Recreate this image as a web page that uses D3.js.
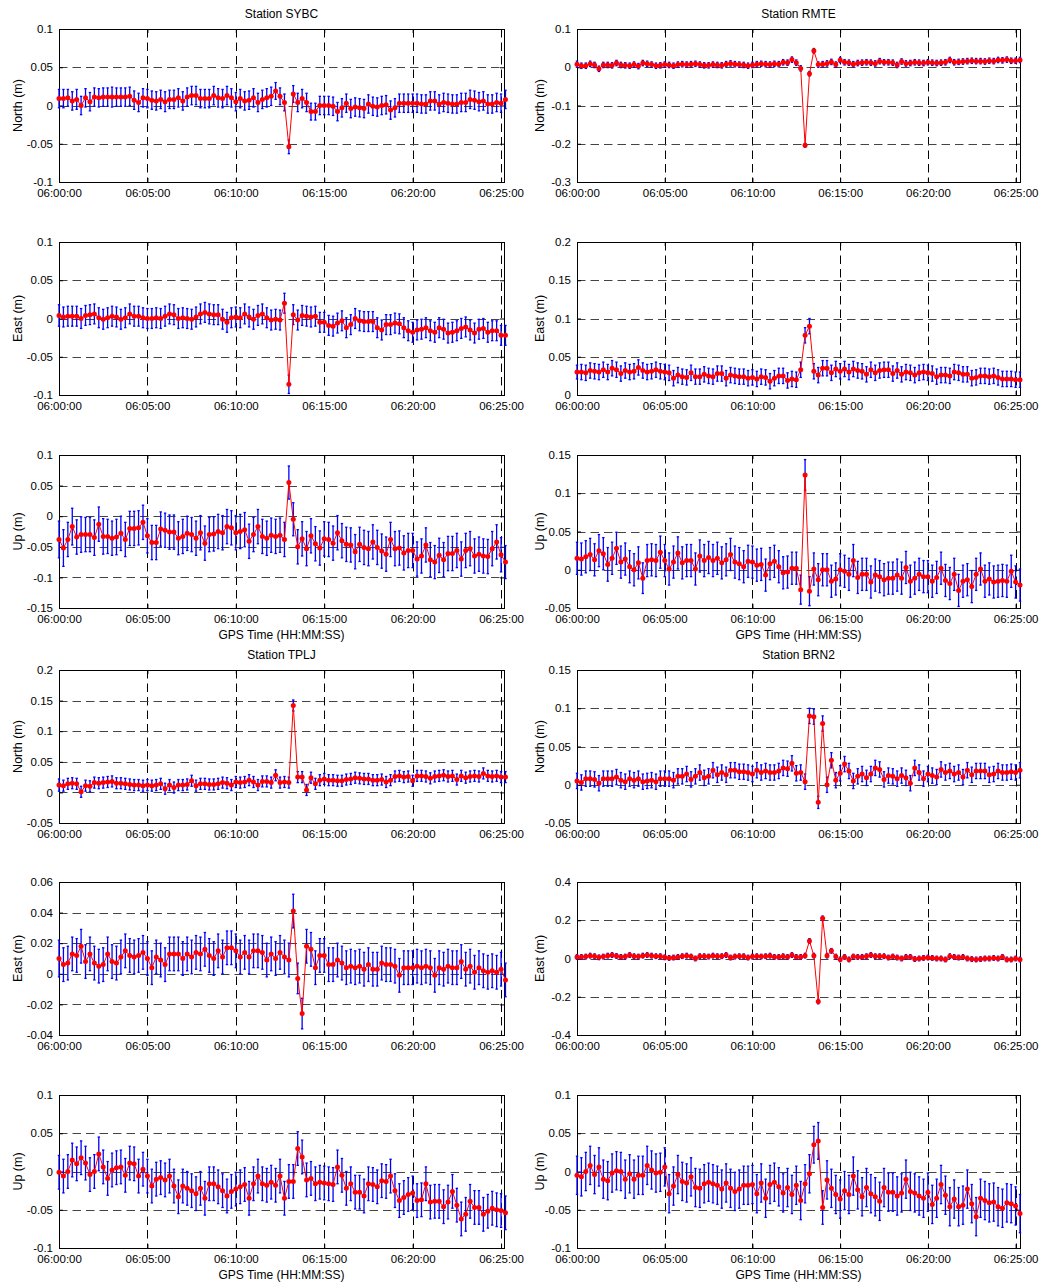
<!DOCTYPE html>
<html>
<head>
<meta charset="utf-8">
<script src="https://cdn.jsdelivr.net/npm/d3@7"></script>
<style>
  body { margin: 0; background: #fff; }
  svg { font-family: "Liberation Sans", Arial, sans-serif; }
</style>
</head>
<body>
<div id="chart-area"></div>
<script>
/*
*   GPS displacement, 6 sub-plots per station pair
*   N / E / U with error bars, 15 s epochs from 06:00:00
*/

// epochs
let epochStep = 15;   // seconds
let nEpochs = 102;
let xTickLabels = ["06:00:00", "06:05:00", "06:10:00", "06:15:00", "06:20:00", "06:25:00"];

// ---- station SYBC ----
let sybcNorth = [
  0.009, 0.009, 0.010, 0.006, 0.008, 0.000, 0.010, 0.005, 0.011, 0.010,
  0.011, 0.011, 0.011, 0.011, 0.011, 0.011, 0.012, 0.007, 0.004, 0.010,
  0.009, 0.007, 0.006, 0.008, 0.005, 0.008, 0.008, 0.010, 0.006, 0.011,
  0.013, 0.013, 0.009, 0.009, 0.009, 0.013, 0.010, 0.009, 0.013, 0.010,
  0.005, 0.009, 0.006, 0.007, 0.010, 0.004, 0.008, 0.010, 0.012, 0.019,
  0.012, 0.004, -0.054, 0.015, 0.004, 0.009, 0.004, -0.008, -0.008, 0.000,
  0.000, 0.000, -0.001, -0.008, -0.003, 0.003, -0.004, -0.002, -0.003, -0.004,
  0.002, -0.001, -0.002, 0.000, 0.001, -0.006, -0.003, 0.003, 0.003, 0.003,
  0.003, 0.003, 0.002, 0.002, 0.006, 0.006, 0.002, 0.004, 0.003, 0.002,
  0.002, 0.004, 0.004, 0.008, 0.007, 0.005, 0.006, 0.002, 0.002, 0.004,
  0.003, 0.008];
let sybcNorthSig = [
  12, 12, 11, 12, 13, 12, 12, 12, 12, 12,
  12, 12, 13, 12, 12, 12, 12, 12, 12, 12,
  12, 12, 12, 12, 13, 12, 12, 12, 12, 12,
  12, 12, 12, 12, 12, 12, 12, 12, 12, 12,
  12, 12, 12, 12, 12, 12, 12, 12, 12, 11,
  11, 11, 9, 11, 12, 12, 12, 11, 11, 12,
  12, 12, 12, 12, 12, 12, 12, 12, 12, 12,
  12, 12, 12, 12, 12, 12, 12, 12, 12, 12,
  12, 12, 12, 12, 12, 12, 12, 12, 12, 12,
  12, 12, 12, 12, 12, 12, 12, 12, 12, 12,
  12, 12];
let sybcEast = [
  0.004, 0.002, 0.003, 0.003, 0.003, 0.000, 0.004, 0.005, 0.006, 0.001,
  -0.001, 0.001, 0.003, 0.002, -0.001, 0.001, 0.006, 0.003, 0.003, 0.001,
  0.000, 0.000, 0.001, 0.000, 0.003, 0.006, 0.005, 0.000, 0.001, 0.000,
  -0.001, 0.002, 0.006, 0.008, 0.006, 0.005, 0.005, -0.001, -0.005, 0.001,
  0.002, 0.001, 0.006, 0.002, -0.001, 0.004, 0.006, 0.001, -0.002, -0.001,
  -0.002, 0.020, -0.086, 0.005, -0.002, 0.004, 0.003, 0.002, 0.003, -0.005,
  -0.005, -0.009, -0.010, -0.006, -0.003, -0.012, -0.008, 0.000, -0.003, -0.004,
  -0.004, -0.004, -0.012, -0.015, -0.008, -0.008, -0.006, -0.007, -0.012, -0.016,
  -0.018, -0.015, -0.014, -0.012, -0.016, -0.018, -0.012, -0.014, -0.019, -0.018,
  -0.016, -0.013, -0.011, -0.015, -0.019, -0.014, -0.013, -0.018, -0.016, -0.016,
  -0.022, -0.022];
let sybcEastSig = [
  14, 13, 13, 13, 13, 13, 13, 13, 13, 13,
  13, 13, 13, 13, 13, 13, 13, 13, 13, 13,
  13, 13, 13, 13, 13, 13, 13, 13, 13, 13,
  13, 13, 13, 13, 13, 13, 13, 13, 13, 13,
  13, 13, 13, 13, 13, 13, 13, 13, 13, 13,
  13, 13, 12, 13, 13, 13, 13, 13, 13, 13,
  13, 13, 13, 13, 13, 13, 13, 13, 13, 13,
  13, 13, 13, 13, 13, 13, 13, 13, 13, 13,
  13, 13, 13, 13, 13, 13, 13, 13, 13, 13,
  13, 13, 13, 13, 13, 13, 13, 13, 13, 13,
  13, 13];
let sybcUp = [
  -0.038, -0.052, -0.038, -0.017, -0.034, -0.030, -0.030, -0.030, -0.035, -0.013,
  -0.033, -0.033, -0.036, -0.034, -0.028, -0.038, -0.020, -0.020, -0.019, -0.010,
  -0.032, -0.043, -0.043, -0.021, -0.023, -0.026, -0.026, -0.036, -0.033, -0.028,
  -0.030, -0.036, -0.027, -0.044, -0.030, -0.029, -0.025, -0.027, -0.017, -0.019,
  -0.027, -0.025, -0.022, -0.041, -0.030, -0.017, -0.033, -0.036, -0.031, -0.033,
  -0.031, -0.038, 0.055, -0.005, -0.050, -0.037, -0.053, -0.032, -0.045, -0.052,
  -0.037, -0.038, -0.044, -0.027, -0.040, -0.046, -0.047, -0.058, -0.046, -0.051,
  -0.053, -0.042, -0.051, -0.057, -0.062, -0.038, -0.053, -0.052, -0.060, -0.056,
  -0.056, -0.070, -0.065, -0.047, -0.071, -0.075, -0.064, -0.071, -0.061, -0.061,
  -0.056, -0.070, -0.056, -0.053, -0.065, -0.062, -0.065, -0.066, -0.053, -0.042,
  -0.063, -0.075];
let sybcUpSig = [
  30, 30, 28, 30, 28, 29, 28, 28, 29, 28,
  29, 28, 28, 29, 28, 28, 28, 28, 28, 28,
  28, 28, 28, 28, 28, 28, 28, 27, 28, 28,
  28, 28, 28, 28, 28, 28, 28, 28, 28, 28,
  28, 28, 28, 28, 28, 28, 28, 28, 28, 28,
  28, 28, 27, 27, 28, 28, 28, 28, 28, 28,
  28, 28, 28, 28, 28, 28, 28, 28, 28, 28,
  28, 28, 28, 28, 28, 28, 28, 28, 28, 28,
  28, 28, 28, 28, 28, 27, 28, 28, 28, 28,
  28, 28, 28, 28, 28, 28, 28, 28, 28, 28,
  28, 27];

// ---- station RMTE ----
let rmteNorth = [
  0.008, 0.004, 0.004, 0.009, 0.006, -0.004, 0.006, 0.006, 0.005, 0.011,
  0.006, 0.005, 0.004, 0.007, 0.003, 0.011, 0.009, 0.007, 0.004, 0.005,
  0.007, 0.006, 0.004, 0.007, 0.008, 0.007, 0.008, 0.009, 0.007, 0.005,
  0.005, 0.007, 0.006, 0.005, 0.008, 0.010, 0.008, 0.007, 0.006, 0.004,
  0.006, 0.008, 0.009, 0.008, 0.007, 0.009, 0.008, 0.013, 0.012, 0.020,
  0.012, -0.003, -0.204, -0.017, 0.043, 0.007, 0.008, 0.010, 0.014, 0.007,
  0.019, 0.013, 0.012, 0.008, 0.011, 0.012, 0.013, 0.012, 0.010, 0.016,
  0.013, 0.013, 0.012, 0.006, 0.015, 0.010, 0.011, 0.013, 0.012, 0.011,
  0.013, 0.012, 0.011, 0.012, 0.013, 0.019, 0.013, 0.014, 0.015, 0.016,
  0.017, 0.016, 0.016, 0.015, 0.017, 0.016, 0.019, 0.018, 0.020, 0.017,
  0.017, 0.019];
let rmteNorthSig = [
  8, 7, 7, 7, 7, 7, 7, 7, 7, 7,
  7, 7, 7, 7, 7, 7, 7, 7, 7, 7,
  7, 7, 7, 7, 7, 7, 7, 7, 7, 7,
  7, 7, 7, 7, 7, 7, 7, 7, 7, 7,
  7, 7, 7, 7, 7, 7, 7, 7, 7, 7,
  7, 7, 5, 6, 6, 7, 7, 7, 7, 7,
  7, 7, 7, 7, 7, 7, 7, 7, 7, 7,
  7, 7, 7, 7, 7, 7, 7, 7, 7, 7,
  7, 7, 7, 7, 7, 7, 7, 7, 7, 7,
  7, 7, 7, 7, 7, 7, 7, 7, 7, 7,
  7, 7];
let rmteEast = [
  0.030, 0.030, 0.029, 0.032, 0.031, 0.030, 0.033, 0.030, 0.035, 0.033,
  0.028, 0.032, 0.030, 0.031, 0.036, 0.032, 0.030, 0.031, 0.033, 0.031,
  0.030, 0.029, 0.022, 0.026, 0.024, 0.023, 0.029, 0.024, 0.024, 0.027,
  0.025, 0.024, 0.028, 0.028, 0.022, 0.026, 0.025, 0.024, 0.024, 0.022,
  0.023, 0.021, 0.024, 0.023, 0.018, 0.022, 0.025, 0.025, 0.019, 0.021,
  0.020, 0.033, 0.078, 0.090, 0.031, 0.026, 0.035, 0.035, 0.029, 0.034,
  0.031, 0.034, 0.030, 0.034, 0.032, 0.031, 0.027, 0.033, 0.029, 0.032,
  0.033, 0.033, 0.028, 0.032, 0.027, 0.030, 0.029, 0.026, 0.029, 0.030,
  0.029, 0.028, 0.024, 0.026, 0.026, 0.025, 0.030, 0.029, 0.027, 0.027,
  0.022, 0.023, 0.025, 0.025, 0.024, 0.025, 0.023, 0.021, 0.021, 0.021,
  0.020, 0.020];
let rmteEastSig = [
  9, 10, 10, 10, 10, 10, 10, 10, 10, 10,
  10, 10, 10, 10, 10, 10, 10, 10, 10, 10,
  10, 10, 10, 10, 10, 10, 10, 10, 10, 10,
  10, 10, 10, 10, 10, 10, 10, 10, 10, 10,
  10, 10, 10, 10, 10, 10, 10, 10, 10, 10,
  10, 10, 10, 10, 10, 10, 10, 10, 10, 10,
  10, 10, 10, 10, 10, 10, 10, 10, 10, 10,
  10, 10, 10, 10, 10, 10, 10, 10, 10, 10,
  10, 10, 10, 10, 10, 10, 10, 10, 10, 10,
  10, 10, 10, 10, 10, 10, 10, 10, 10, 10,
  10, 10];
let rmteUp = [
  0.015, 0.014, 0.017, 0.020, 0.013, 0.025, 0.021, 0.007, 0.015, 0.028,
  0.010, 0.014, 0.004, 0.000, 0.009, -0.011, 0.012, 0.013, 0.012, 0.023,
  0.012, 0.001, 0.010, 0.022, 0.009, 0.012, 0.012, 0.001, 0.018, 0.012,
  0.016, 0.012, 0.015, 0.009, 0.013, 0.020, 0.010, 0.008, 0.004, 0.011,
  0.010, 0.006, 0.007, -0.007, 0.008, 0.011, 0.004, -0.004, -0.003, 0.002,
  0.002, -0.026, 0.124, -0.028, 0.001, -0.013, 0.000, 0.000, -0.015, -0.012,
  0.000, -0.002, -0.006, 0.012, -0.010, -0.006, -0.006, -0.016, -0.007, -0.009,
  -0.013, -0.011, -0.011, -0.007, -0.011, 0.003, -0.015, -0.011, -0.006, -0.009,
  -0.009, -0.015, -0.010, 0.002, -0.014, -0.018, -0.006, -0.027, -0.015, -0.013,
  -0.022, -0.006, 0.001, -0.015, -0.012, -0.016, -0.015, -0.014, -0.015, -0.002,
  -0.016, -0.020];
let rmteUpSig = [
  21, 21, 21, 21, 21, 21, 21, 22, 21, 21,
  21, 21, 21, 21, 21, 20, 21, 21, 21, 21,
  21, 21, 21, 21, 21, 21, 21, 21, 21, 21,
  21, 21, 21, 21, 21, 21, 21, 21, 21, 21,
  21, 21, 21, 21, 21, 21, 21, 21, 21, 21,
  21, 19, 20, 19, 21, 21, 21, 21, 21, 21,
  21, 21, 21, 21, 21, 21, 21, 21, 21, 21,
  21, 21, 21, 21, 21, 21, 21, 21, 21, 21,
  21, 21, 21, 21, 21, 21, 21, 21, 21, 21,
  21, 21, 21, 21, 21, 21, 21, 21, 21, 21,
  21, 21];

// ---- station TPLJ ----
let tpljNorth = [
  0.012, 0.011, 0.014, 0.015, 0.014, 0.001, 0.011, 0.010, 0.016, 0.015,
  0.016, 0.017, 0.018, 0.015, 0.015, 0.014, 0.013, 0.012, 0.012, 0.011,
  0.012, 0.011, 0.012, 0.014, 0.006, 0.012, 0.008, 0.012, 0.012, 0.013,
  0.019, 0.011, 0.014, 0.014, 0.013, 0.013, 0.014, 0.016, 0.015, 0.012,
  0.017, 0.016, 0.017, 0.020, 0.017, 0.012, 0.018, 0.018, 0.016, 0.028,
  0.016, 0.017, 0.016, 0.142, 0.025, 0.025, 0.004, 0.024, 0.014, 0.020,
  0.022, 0.020, 0.020, 0.019, 0.019, 0.021, 0.022, 0.024, 0.023, 0.022,
  0.022, 0.020, 0.020, 0.021, 0.017, 0.020, 0.026, 0.027, 0.025, 0.026,
  0.019, 0.027, 0.027, 0.026, 0.023, 0.026, 0.027, 0.028, 0.026, 0.027,
  0.021, 0.027, 0.024, 0.026, 0.027, 0.026, 0.031, 0.027, 0.026, 0.027,
  0.025, 0.025];
let tpljNorthSig = [
  10, 9, 9, 9, 9, 9, 9, 9, 9, 9,
  9, 9, 9, 9, 9, 9, 9, 9, 9, 9,
  9, 9, 9, 9, 9, 9, 9, 9, 9, 9,
  9, 9, 9, 9, 9, 9, 9, 9, 9, 9,
  9, 9, 9, 9, 9, 9, 9, 9, 9, 9,
  9, 9, 9, 9, 9, 9, 9, 9, 9, 9,
  9, 9, 9, 9, 9, 9, 9, 9, 9, 9,
  9, 9, 9, 9, 9, 9, 9, 9, 9, 9,
  9, 9, 9, 9, 9, 9, 9, 9, 9, 9,
  9, 9, 9, 9, 9, 9, 9, 9, 9, 9,
  9, 9];
let tpljEast = [
  0.010, 0.006, 0.007, 0.013, 0.012, 0.018, 0.008, 0.013, 0.007, 0.005,
  0.006, 0.013, 0.008, 0.007, 0.011, 0.015, 0.012, 0.011, 0.012, 0.014,
  0.010, 0.004, 0.011, 0.009, 0.006, 0.013, 0.013, 0.013, 0.010, 0.013,
  0.011, 0.014, 0.013, 0.016, 0.012, 0.010, 0.015, 0.011, 0.017, 0.017,
  0.015, 0.011, 0.014, 0.011, 0.015, 0.015, 0.014, 0.009, 0.013, 0.010,
  0.014, 0.011, 0.009, 0.041, -0.003, -0.026, 0.018, 0.016, 0.004, 0.012,
  0.012, 0.006, 0.006, 0.009, 0.007, 0.004, 0.005, 0.004, 0.005, 0.003,
  0.006, 0.003, 0.003, 0.007, 0.006, 0.006, 0.005, -0.001, 0.004, 0.004,
  0.004, 0.005, 0.004, 0.005, 0.004, -0.001, 0.004, 0.003, 0.005, 0.004,
  0.004, 0.008, 0.003, 0.005, 0.001, 0.004, 0.002, 0.001, 0.002, 0.001,
  0.003, -0.004];
let tpljEastSig = [
  12, 11, 11, 11, 11, 11, 11, 11, 11, 11,
  11, 11, 11, 11, 11, 11, 11, 11, 11, 11,
  11, 11, 11, 11, 11, 11, 11, 11, 11, 11,
  11, 11, 11, 11, 11, 11, 11, 11, 11, 11,
  11, 11, 11, 11, 11, 11, 11, 11, 11, 11,
  11, 11, 11, 11, 10, 10, 11, 11, 11, 11,
  11, 11, 11, 11, 11, 11, 11, 11, 11, 11,
  11, 11, 11, 11, 11, 11, 11, 11, 11, 11,
  11, 11, 11, 11, 11, 11, 11, 11, 11, 11,
  11, 11, 11, 11, 11, 11, 11, 11, 11, 11,
  11, 11];
let tpljUp = [
  -0.001, -0.006, 0.000, 0.015, 0.010, 0.018, 0.011, -0.004, 0.000, 0.023,
  0.006, -0.009, 0.002, 0.005, 0.006, -0.005, 0.011, 0.010, -0.006, 0.003,
  -0.006, -0.019, -0.010, -0.008, -0.011, -0.006, -0.019, -0.033, -0.019, -0.022,
  -0.025, -0.029, -0.022, -0.035, -0.016, -0.016, -0.020, -0.025, -0.032, -0.026,
  -0.023, -0.020, -0.017, -0.035, -0.016, -0.006, -0.016, -0.018, -0.014, -0.018,
  -0.006, -0.035, -0.013, -0.013, 0.030, 0.019, -0.011, -0.009, -0.016, -0.014,
  -0.015, -0.016, -0.017, 0.006, -0.005, -0.022, -0.016, -0.027, -0.027, -0.032,
  -0.016, -0.017, -0.020, -0.012, -0.013, -0.006, -0.025, -0.038, -0.034, -0.030,
  -0.028, -0.038, -0.037, -0.016, -0.040, -0.039, -0.039, -0.046, -0.040, -0.026,
  -0.044, -0.062, -0.056, -0.039, -0.047, -0.047, -0.056, -0.052, -0.048, -0.050,
  -0.051, -0.054];
let tpljUpSig = [
  22, 22, 22, 22, 22, 22, 22, 22, 22, 22,
  22, 22, 22, 22, 22, 22, 22, 22, 22, 22,
  22, 22, 22, 22, 22, 22, 22, 22, 22, 22,
  22, 22, 22, 22, 22, 22, 22, 22, 22, 22,
  22, 22, 22, 22, 22, 22, 22, 22, 22, 22,
  22, 22, 22, 22, 22, 22, 22, 22, 22, 22,
  22, 22, 22, 22, 22, 22, 22, 22, 22, 22,
  22, 22, 22, 22, 22, 22, 22, 22, 22, 22,
  22, 22, 22, 22, 22, 22, 22, 22, 22, 22,
  22, 22, 22, 22, 22, 22, 22, 22, 22, 22,
  22, 22];

// ---- station BRN2 ----
let brn2North = [
  0.005, 0.003, 0.008, 0.008, 0.007, 0.002, 0.008, 0.008, 0.008, 0.010,
  0.006, 0.004, 0.008, 0.006, 0.008, 0.004, 0.005, 0.006, 0.004, 0.008,
  0.008, 0.008, 0.006, 0.011, 0.011, 0.014, 0.007, 0.011, 0.016, 0.009,
  0.011, 0.019, 0.013, 0.016, 0.013, 0.019, 0.019, 0.017, 0.017, 0.016,
  0.014, 0.019, 0.016, 0.018, 0.016, 0.016, 0.018, 0.022, 0.021, 0.028,
  0.015, 0.016, 0.004, 0.090, 0.089, -0.023, 0.080, 0.000, 0.032, 0.006,
  0.015, 0.027, 0.018, 0.005, 0.011, 0.014, 0.009, 0.014, 0.022, 0.020,
  0.007, 0.012, 0.011, 0.008, 0.012, 0.009, 0.002, 0.022, 0.016, 0.008,
  0.014, 0.012, 0.010, 0.020, 0.016, 0.018, 0.014, 0.016, 0.010, 0.019,
  0.013, 0.018, 0.018, 0.018, 0.013, 0.014, 0.018, 0.016, 0.016, 0.017,
  0.016, 0.019];
let brn2NorthSig = [
  10, 10, 10, 10, 10, 10, 10, 10, 10, 10,
  10, 10, 10, 10, 10, 10, 10, 10, 10, 10,
  10, 10, 10, 10, 10, 10, 10, 10, 10, 10,
  10, 10, 10, 10, 10, 10, 10, 10, 10, 10,
  10, 10, 10, 10, 10, 10, 10, 10, 10, 10,
  10, 10, 10, 10, 10, 8, 10, 10, 10, 10,
  10, 10, 10, 10, 10, 10, 10, 10, 10, 10,
  10, 10, 10, 10, 10, 10, 10, 10, 10, 10,
  10, 10, 10, 10, 10, 10, 10, 10, 10, 10,
  10, 10, 10, 10, 10, 10, 10, 10, 10, 10,
  10, 10];
let brn2East = [
  0.008, 0.008, 0.010, 0.015, 0.012, 0.006, 0.010, 0.015, 0.018, 0.013,
  0.008, 0.010, 0.018, 0.012, 0.010, 0.015, 0.018, 0.015, 0.012, 0.012,
  0.006, 0.003, 0.005, 0.008, 0.012, 0.015, 0.010, 0.000, 0.012, 0.012,
  0.010, 0.015, 0.012, 0.012, 0.018, 0.005, 0.010, 0.012, 0.012, 0.005,
  0.010, 0.012, 0.010, 0.012, 0.015, 0.008, 0.008, 0.012, 0.008, 0.018,
  0.008, 0.008, 0.015, 0.092, 0.015, -0.225, 0.210, 0.015, 0.040, 0.010,
  -0.005, 0.008, -0.005, 0.010, 0.008, 0.008, 0.012, 0.018, 0.012, 0.012,
  0.012, 0.005, 0.010, 0.005, 0.000, 0.008, 0.008, -0.003, 0.000, 0.003,
  0.005, 0.003, 0.000, 0.000, -0.005, 0.012, 0.008, 0.005, 0.008, 0.000,
  -0.003, -0.005, -0.003, 0.000, 0.000, 0.003, 0.000, 0.008, -0.005, -0.005,
  0.000, -0.005];
let brn2EastSig = [
  12, 12, 12, 12, 12, 12, 12, 12, 12, 12,
  12, 12, 12, 12, 12, 12, 12, 12, 12, 12,
  12, 12, 12, 12, 12, 12, 12, 12, 12, 12,
  12, 12, 12, 12, 12, 12, 12, 12, 12, 12,
  12, 12, 12, 12, 12, 12, 12, 12, 12, 12,
  12, 12, 12, 12, 12, 12, 12, 12, 12, 12,
  12, 12, 12, 12, 12, 12, 12, 12, 12, 12,
  12, 12, 12, 12, 12, 12, 12, 12, 12, 12,
  12, 12, 12, 12, 12, 12, 12, 12, 12, 12,
  12, 12, 12, 12, 12, 12, 12, 12, 12, 12,
  12, 12];
let brn2Up = [
  -0.005, -0.007, 0.000, 0.008, -0.004, 0.006, -0.010, -0.012, -0.002, 0.001,
  0.000, -0.010, -0.003, -0.010, -0.005, -0.005, 0.008, 0.002, -0.002, -0.001,
  0.006, -0.029, -0.019, -0.004, -0.013, -0.015, -0.007, -0.021, -0.022, -0.016,
  -0.014, -0.016, -0.018, -0.023, -0.015, -0.022, -0.026, -0.023, -0.018, -0.018,
  -0.017, -0.029, -0.015, -0.035, -0.017, -0.014, -0.020, -0.028, -0.021, -0.030,
  -0.018, -0.038, -0.016, -0.003, 0.035, 0.040, -0.047, -0.011, -0.022, -0.030,
  -0.036, -0.025, -0.030, -0.006, -0.024, -0.033, -0.021, -0.029, -0.033, -0.039,
  -0.021, -0.027, -0.027, -0.032, -0.028, -0.010, -0.026, -0.028, -0.032, -0.035,
  -0.027, -0.043, -0.035, -0.017, -0.031, -0.046, -0.036, -0.046, -0.044, -0.023,
  -0.042, -0.059, -0.035, -0.038, -0.041, -0.040, -0.046, -0.048, -0.041, -0.042,
  -0.045, -0.055];
let brn2UpSig = [
  25, 25, 25, 25, 25, 25, 25, 25, 25, 25,
  25, 25, 25, 25, 25, 25, 25, 25, 25, 25,
  25, 25, 25, 25, 25, 25, 25, 25, 25, 25,
  25, 25, 25, 25, 25, 25, 25, 25, 25, 25,
  25, 25, 25, 25, 25, 25, 25, 25, 25, 25,
  25, 25, 25, 25, 24, 24, 22, 25, 25, 25,
  25, 25, 25, 25, 25, 25, 25, 25, 25, 25,
  25, 25, 25, 25, 25, 25, 25, 25, 25, 25,
  25, 25, 25, 25, 25, 25, 25, 25, 25, 25,
  25, 25, 25, 25, 25, 25, 25, 25, 25, 25,
  25, 25];

// y tick values for each panel
let ticksSybcN = [-0.1, -0.05, 0, 0.05, 0.1];
let ticksSybcE = [-0.1, -0.05, 0, 0.05, 0.1];
let ticksSybcU = [-0.15, -0.1, -0.05, 0, 0.05, 0.1];
let ticksRmteN = [-0.3, -0.2, -0.1, 0, 0.1];
let ticksRmteE = [0, 0.05, 0.1, 0.15, 0.2];
let ticksRmteU = [-0.05, 0, 0.05, 0.1, 0.15];
let ticksTpljN = [-0.05, 0, 0.05, 0.1, 0.15, 0.2];
let ticksTpljE = [-0.04, -0.02, 0, 0.02, 0.04, 0.06];
let ticksTpljU = [-0.1, -0.05, 0, 0.05, 0.1];
let ticksBrn2N = [-0.05, 0, 0.05, 0.1, 0.15];
let ticksBrn2E = [-0.4, -0.2, 0, 0.2, 0.4];
let ticksBrn2U = [-0.1, -0.05, 0, 0.05, 0.1];


// Variable
let w = 1047;
let h = 1288;
let ph = 153;                               // panel height
let rowTop = [29, 242, 455, 670, 882, 1095];
let cols = [
  {left: 59,  right: 504, endSec: 1510, labelX: 21.5},
  {left: 577, right: 1020, endSec: 1515, labelX: 544}
];

let t0 = Date.UTC(2000, 0, 1, 6, 0, 0);
let times = d3.range(nEpochs).map(function(i){ return new Date(t0 + i * epochStep * 1000); });
let xTicks = xTickLabels.map(function(s){
  let p = s.split(":");
  return new Date(Date.UTC(2000, 0, 1, +p[0], +p[1], +p[2]));
});

let panels = [
  {col: 0, row: 0, title: "Station SYBC", ylab: "North (m)", v: sybcNorth, s: sybcNorthSig, ticks: ticksSybcN},
  {col: 0, row: 1, ylab: "East (m)", v: sybcEast, s: sybcEastSig, ticks: ticksSybcE},
  {col: 0, row: 2, ylab: "Up (m)", v: sybcUp, s: sybcUpSig, ticks: ticksSybcU, xlab: true},
  {col: 1, row: 0, title: "Station RMTE", ylab: "North (m)", v: rmteNorth, s: rmteNorthSig, ticks: ticksRmteN},
  {col: 1, row: 1, ylab: "East (m)", v: rmteEast, s: rmteEastSig, ticks: ticksRmteE},
  {col: 1, row: 2, ylab: "Up (m)", v: rmteUp, s: rmteUpSig, ticks: ticksRmteU, xlab: true},
  {col: 0, row: 3, title: "Station TPLJ", ylab: "North (m)", v: tpljNorth, s: tpljNorthSig, ticks: ticksTpljN},
  {col: 0, row: 4, ylab: "East (m)", v: tpljEast, s: tpljEastSig, ticks: ticksTpljE},
  {col: 0, row: 5, ylab: "Up (m)", v: tpljUp, s: tpljUpSig, ticks: ticksTpljU, xlab: true},
  {col: 1, row: 3, title: "Station BRN2", ylab: "North (m)", v: brn2North, s: brn2NorthSig, ticks: ticksBrn2N},
  {col: 1, row: 4, ylab: "East (m)", v: brn2East, s: brn2EastSig, ticks: ticksBrn2E},
  {col: 1, row: 5, ylab: "Up (m)", v: brn2Up, s: brn2UpSig, ticks: ticksBrn2U, xlab: true}
];

// make SVG - Canvas
let svg = d3.select("#chart-area")
    .append("svg")
    .attr("width", w)
    .attr("height", h);

svg.append("rect").attr("width", w).attr("height", h).attr("fill", "#fff");

let fmtY = function(d){ return String(+d.toFixed(3)); };

panels.forEach(function(p){
  let c = cols[p.col];
  let top = rowTop[p.row];
  let bottom = top + ph;

  let x = d3.scaleUtc()
      .domain([new Date(t0), new Date(t0 + c.endSec * 1000)])
      .range([c.left, c.right]);
  let y = d3.scaleLinear()
      .domain(d3.extent(p.ticks))
      .range([bottom, top]);

  let g = svg.append("g");

  // dashed grid
  g.selectAll(".vg").data(xTicks).enter().append("line")
      .attr("x1", function(d){ return Math.round(x(d)) + 0.5; })
      .attr("x2", function(d){ return Math.round(x(d)) + 0.5; })
      .attr("y1", top).attr("y2", bottom)
      .attr("stroke", "#000").attr("stroke-width", 1)
      .attr("stroke-dasharray", "8.5,5");
  g.selectAll(".hg").data(p.ticks).enter().append("line")
      .attr("x1", c.left).attr("x2", c.right)
      .attr("y1", function(d){ return Math.round(y(d)) + 0.5; })
      .attr("y2", function(d){ return Math.round(y(d)) + 0.5; })
      .attr("stroke", "#444").attr("stroke-width", 1)
      .attr("stroke-dasharray", "8.5,5");

  // axes (ticks inside like matlab)
  let xAxis = d3.axisBottom(x).tickValues(xTicks)
      .tickFormat(d3.utcFormat("%H:%M:%S"))
      .tickSizeInner(-4).tickSizeOuter(0).tickPadding(7);
  let yAxis = d3.axisLeft(y).tickValues(p.ticks).tickFormat(fmtY)
      .tickSizeInner(-4).tickSizeOuter(0).tickPadding(6);

  let gx = g.append("g").attr("transform", "translate(0," + bottom + ")").call(xAxis);
  let gy = g.append("g").attr("transform", "translate(" + c.left + ",0)").call(yAxis);
  let gx2 = g.append("g").attr("transform", "translate(0," + top + ")")
      .call(d3.axisTop(x).tickValues(xTicks).tickFormat("").tickSizeInner(-4).tickSizeOuter(0));
  let gy2 = g.append("g").attr("transform", "translate(" + c.right + ",0)")
      .call(d3.axisRight(y).tickValues(p.ticks).tickFormat("").tickSizeInner(-4).tickSizeOuter(0));
  [gx, gy, gx2, gy2].forEach(function(a){
    a.select(".domain").remove();
    a.selectAll("text").attr("font-size", "11.5px").attr("fill", "#000")
        .attr("font-family", "'Liberation Sans', Arial, sans-serif");
  });

  // box
  g.append("rect")
      .attr("x", c.left + 0.5).attr("y", top + 0.5)
      .attr("width", c.right - c.left).attr("height", ph)
      .attr("fill", "none").attr("stroke", "#000").attr("stroke-width", 1);

  // error bars
  let eb = g.append("g").attr("stroke", "#0000ff").attr("stroke-width", 1.3);
  eb.selectAll(".bar").data(p.v).enter().append("line")
      .attr("x1", function(d, i){ return x(times[i]); })
      .attr("x2", function(d, i){ return x(times[i]); })
      .attr("y1", function(d, i){ return y(d - p.s[i] / 1000); })
      .attr("y2", function(d, i){ return y(d + p.s[i] / 1000); });
  eb.selectAll(".capt").data(p.v).enter().append("line")
      .attr("x1", function(d, i){ return x(times[i]) - 1.2; })
      .attr("x2", function(d, i){ return x(times[i]) + 1.2; })
      .attr("y1", function(d, i){ return y(d + p.s[i] / 1000); })
      .attr("y2", function(d, i){ return y(d + p.s[i] / 1000); });
  eb.selectAll(".capb").data(p.v).enter().append("line")
      .attr("x1", function(d, i){ return x(times[i]) - 1.2; })
      .attr("x2", function(d, i){ return x(times[i]) + 1.2; })
      .attr("y1", function(d, i){ return y(d - p.s[i] / 1000); })
      .attr("y2", function(d, i){ return y(d - p.s[i] / 1000); });

  // red line + dots
  let line = d3.line()
      .x(function(d, i){ return x(times[i]); })
      .y(function(d){ return y(d); });
  g.append("path").datum(p.v)
      .attr("d", line)
      .attr("fill", "none").attr("stroke", "#ff0000").attr("stroke-width", 1);
  g.selectAll(".dot").data(p.v).enter().append("circle")
      .attr("cx", function(d, i){ return x(times[i]); })
      .attr("cy", function(d){ return y(d); })
      .attr("r", 2.5)
      .attr("fill", "#ff0000");

  // labels
  g.append("text")
      .attr("transform", "translate(" + c.labelX + "," + (top + ph / 2) + ") rotate(-90)")
      .attr("text-anchor", "middle")
      .attr("font-size", "12.5px")
      .text(p.ylab);
  if (p.title) {
    g.append("text")
        .attr("x", (c.left + c.right) / 2).attr("y", top - 11)
        .attr("text-anchor", "middle").attr("font-size", "12px")
        .text(p.title);
  }
  if (p.xlab) {
    g.append("text")
        .attr("x", (c.left + c.right) / 2).attr("y", bottom + 31)
        .attr("text-anchor", "middle").attr("font-size", "12px")
        .text("GPS Time (HH:MM:SS)");
  }
});
</script>
</body>
</html>
